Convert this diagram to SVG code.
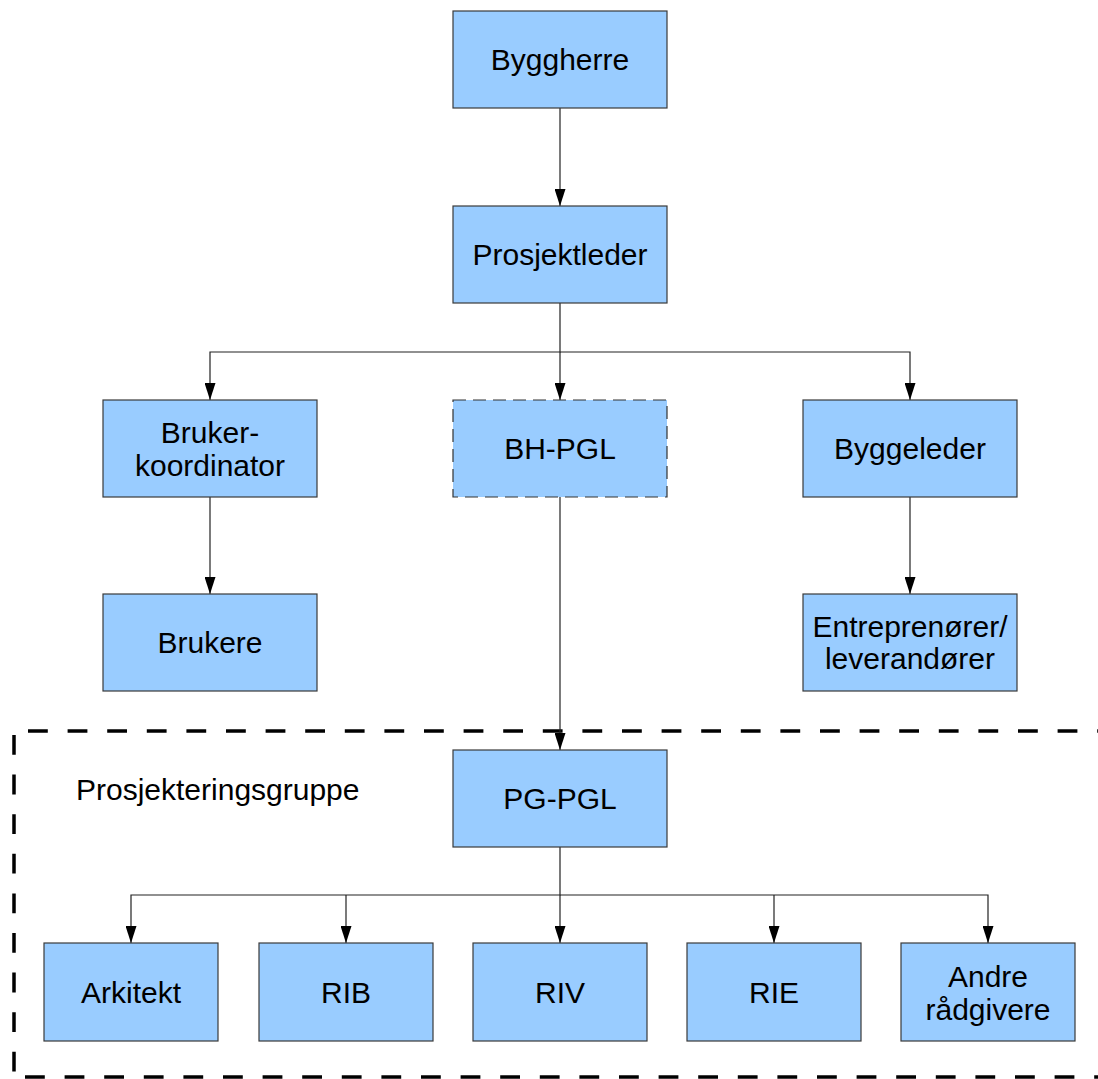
<svg xmlns="http://www.w3.org/2000/svg" width="1098" height="1079" viewBox="0 0 1098 1079">
  <defs>
    <style>
      .box { fill: #99ccff; stroke: #3a3a3a; stroke-width: 1.2; }
      .dash { stroke: #333; stroke-dasharray: 13 7; }
      .lbl { font-family: "Liberation Sans", Arial, sans-serif; font-size: 30px; fill: #000; text-anchor: middle; }
      .conn { fill: none; stroke: #222; stroke-width: 1.2; }
      .grp { fill: none; stroke: #000; stroke-width: 3.5; stroke-dasharray: 19.8 19.8; }
    </style>
    <marker id="arrow" markerUnits="userSpaceOnUse" markerWidth="17" markerHeight="11" refX="17" refY="5.5" viewBox="0 0 17 11" orient="auto">
      <path d="M0,0 L17,5.5 L0,11 Z" fill="#000"/>
    </marker>
  </defs>

  <!-- project group frame (right edge runs past the page) -->
  <g id="group-frame">
    <line class="grp" x1="28" y1="731" x2="1098" y2="731"/>
    <line class="grp" x1="14" y1="735" x2="14" y2="1079"/>
    <line class="grp" x1="25" y1="1077" x2="1098" y2="1077"/>
    <text class="lbl" x="76" y="800" style="text-anchor:start">Prosjekteringsgruppe</text>
  </g>

  <!-- connectors -->
  <g id="connectors">
    <path class="conn" d="M560,108 V206" marker-end="url(#arrow)"/>
    <path class="conn" d="M560,303 V352 H210 V400" marker-end="url(#arrow)"/>
    <path class="conn" d="M560,352 V400" marker-end="url(#arrow)"/>
    <path class="conn" d="M560,352 H910 V400" marker-end="url(#arrow)"/>
    <path class="conn" d="M210,497 V594" marker-end="url(#arrow)"/>
    <path class="conn" d="M910,497 V594" marker-end="url(#arrow)"/>
    <path class="conn" d="M560,497 V750" marker-end="url(#arrow)"/>
    <path class="conn" d="M560,847 V895 H131 V943" marker-end="url(#arrow)"/>
    <path class="conn" d="M346,895 V943" marker-end="url(#arrow)"/>
    <path class="conn" d="M560,895 V943" marker-end="url(#arrow)"/>
    <path class="conn" d="M560,895 H988 V943" marker-end="url(#arrow)"/>
    <path class="conn" d="M774,895 V943" marker-end="url(#arrow)"/>
  </g>

  <g id="byggherre">
    <rect class="box" x="453" y="11" width="214" height="97"/>
    <text class="lbl" x="560" y="70">Byggherre</text>
  </g>
  <g id="prosjektleder">
    <rect class="box" x="453" y="206" width="214" height="97"/>
    <text class="lbl" x="560" y="265">Prosjektleder</text>
  </g>
  <g id="brukerkoordinator">
    <rect class="box" x="103" y="400" width="214" height="97"/>
    <text class="lbl" x="210" y="443">Bruker-</text>
    <text class="lbl" x="210" y="476">koordinator</text>
  </g>
  <g id="bh-pgl">
    <rect class="box dash" x="453" y="400" width="214" height="97"/>
    <text class="lbl" x="560" y="459">BH-PGL</text>
  </g>
  <g id="byggeleder">
    <rect class="box" x="803" y="400" width="214" height="97"/>
    <text class="lbl" x="910" y="459">Byggeleder</text>
  </g>
  <g id="brukere">
    <rect class="box" x="103" y="594" width="214" height="97"/>
    <text class="lbl" x="210" y="653">Brukere</text>
  </g>
  <g id="entreprenorer">
    <rect class="box" x="803" y="594" width="214" height="97"/>
    <text class="lbl" x="910" y="637">Entreprenører/</text>
    <text class="lbl" x="910" y="669">leverandører</text>
  </g>
  <g id="pg-pgl">
    <rect class="box" x="453" y="750" width="214" height="97"/>
    <text class="lbl" x="560" y="809">PG-PGL</text>
  </g>
  <g id="arkitekt">
    <rect class="box" x="44" y="943" width="174" height="98"/>
    <text class="lbl" x="131" y="1003">Arkitekt</text>
  </g>
  <g id="rib">
    <rect class="box" x="259" y="943" width="174" height="98"/>
    <text class="lbl" x="346" y="1003">RIB</text>
  </g>
  <g id="riv">
    <rect class="box" x="473" y="943" width="174" height="98"/>
    <text class="lbl" x="560" y="1003">RIV</text>
  </g>
  <g id="rie">
    <rect class="box" x="687" y="943" width="174" height="98"/>
    <text class="lbl" x="774" y="1003">RIE</text>
  </g>
  <g id="andre-radgivere">
    <rect class="box" x="901" y="943" width="174" height="98"/>
    <text class="lbl" x="988" y="987">Andre</text>
    <text class="lbl" x="988" y="1020">rådgivere</text>
  </g>
</svg>
